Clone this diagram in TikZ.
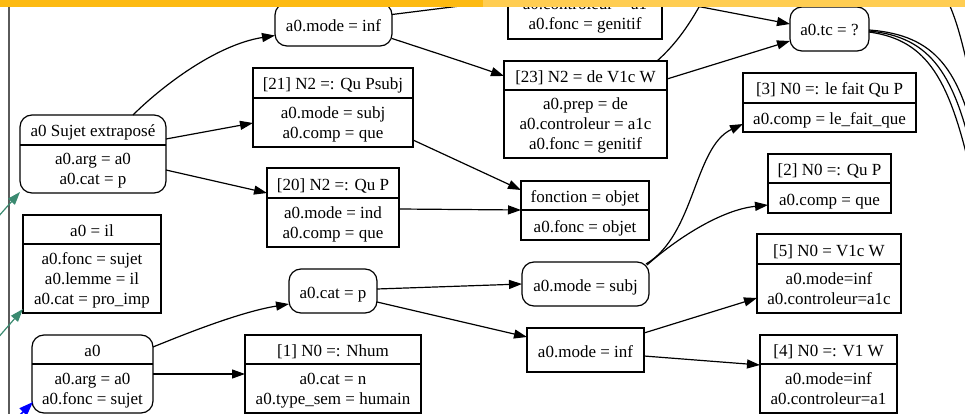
\documentclass[tikz,border=0pt]{standalone}
\usepackage{fontspec}
\setmainfont{Liberation Serif}
\usetikzlibrary{arrows.meta,calc}
\definecolor{barleft}{RGB}{253,186,18}
\definecolor{barright}{RGB}{255,205,82}
\definecolor{tealarrow}{RGB}{58,138,112}
\definecolor{framegray}{RGB}{90,90,90}

\begin{document}
\begin{tikzpicture}[x=1pt,y=-1pt,
  box/.style={draw, line width=1.2pt, inner sep=0pt, outer sep=0pt},
  rbox/.style={box, rounded corners=12pt},
  txt/.style={inner sep=0pt, outer sep=0pt, align=center, yshift=-3pt,
    font=\fontsize{17}{20}\selectfont,
    execute at begin node=\strut, execute at end node=\strut},
  rule/.style={line width=1.2pt},
  plain/.style={line width=1.2pt},
  edge/.style={line width=1.2pt, -{Triangle[length=13pt,width=9pt]}},
  tealedge/.style={tealarrow, line width=1.2pt, -{Triangle[length=13pt,width=9pt]}},
  blueedge/.style={blue, line width=1.6pt, -{Triangle[length=14pt,width=10pt]}}
]
\useasboundingbox (0,0) rectangle (965,414);
\clip (0,0) rectangle (965,414);

% frame rule on the left
\draw[framegray, line width=1.8pt] (9,7) -- (9,414);

% ---------- column 1 ----------
\node[rbox, minimum width=146pt, minimum height=78pt] (sujet) at (93,154) {};
\draw[rule] ($(sujet.north west)+(0,30)$) -- ($(sujet.north east)+(0,30)$);
\node[txt] (sujeth) at (93,130) {a0 Sujet extraposé};
\node[txt] (sujetb) at (93,169) {a0.arg = a0\\a0.cat = p};

\node[box, minimum width=138pt, minimum height=98pt] (a0il) at (92,264) {};
\draw[rule] ($(a0il.north west)+(0,29)$) -- ($(a0il.north east)+(0,29)$);
\node[txt] (a0ilh) at (92,229.5) {a0 = il};
\node[txt] (a0ilb) at (92,278.5) {a0.fonc = sujet\\a0.lemme = il\\a0.cat = pro\_imp};

\node[rbox, minimum width=121pt, minimum height=78pt] (a0) at (92.5,374) {};
\draw[rule] ($(a0.north west)+(0,29)$) -- ($(a0.north east)+(0,29)$);
\node[txt] (a0h) at (92.5,349.5) {a0};
\node[txt] (a0b) at (92.5,389) {a0.arg = a0\\a0.fonc = sujet};

% ---------- column 2 ----------
\node[rbox, minimum width=117pt, minimum height=43pt] (modeinfa) at (333.5,24.5) {};
\node[txt] (modeinfat) at (333.5,24.5) {a0.mode = inf};

\node[box, minimum width=160pt, minimum height=79pt] (q21) at (333,107.5) {};
\draw[rule] ($(q21.north west)+(0,30)$) -- ($(q21.north east)+(0,30)$);
\node[txt] (q21h) at (333,83) {[21] N2 =: Qu Psubj};
\node[txt] (q21b) at (333,122.5) {a0.mode = subj\\a0.comp = que};

\node[box, minimum width=132pt, minimum height=79pt] (q20) at (333,207.5) {};
\draw[rule] ($(q20.north west)+(0,30)$) -- ($(q20.north east)+(0,30)$);
\node[txt] (q20h) at (333,183) {[20] N2 =: Qu P};
\node[txt] (q20b) at (333,222.5) {a0.mode = ind\\a0.comp = que};

\node[rbox, minimum width=88pt, minimum height=44pt] (catp) at (333,291) {};
\node[txt] (catpt) at (333,291) {a0.cat = p};

\node[box, minimum width=176pt, minimum height=78pt] (q1) at (333,374) {};
\draw[rule] ($(q1.north west)+(0,29)$) -- ($(q1.north east)+(0,29)$);
\node[txt] (q1h) at (333,349.5) {[1] N0 =: Nhum};
\node[txt] (q1b) at (333,389) {a0.cat = n\\a0.type\_sem = humain};

% ---------- column 3 ----------
\node[box, minimum width=154pt, minimum height=79pt] (q22) at (585,-0.5) {};
\node[txt] (q22b) at (585,14) {a0.controleur = a1\\a0.fonc = genitif};

\node[box, minimum width=163pt, minimum height=97pt] (q23) at (585.5,109.5) {};
\draw[rule] ($(q23.north west)+(0,29)$) -- ($(q23.north east)+(0,29)$);
\node[txt] (q23h) at (585.5,75.5) {[23] N2 = de V1c W};
\node[txt] (q23b) at (585.5,124) {a0.prep = de\\a0.controleur = a1c\\a0.fonc = genitif};

\node[box, minimum width=128pt, minimum height=59pt] (fonc) at (585,210.5) {};
\draw[rule] ($(fonc.north west)+(0,29)$) -- ($(fonc.north east)+(0,29)$);
\node[txt] (fonch) at (585,195.5) {fonction = objet};
\node[txt] (foncb) at (585,225) {a0.fonc = objet};

\node[rbox, minimum width=127pt, minimum height=44pt] (subj) at (585.5,284) {};
\node[txt] (subjt) at (585.5,284) {a0.mode = subj};

\node[box, minimum width=117pt, minimum height=44pt] (modeinf) at (585.5,350) {};
\node[txt] (modeinft) at (585.5,350) {a0.mode = inf};

% ---------- column 4 ----------
\node[rbox, minimum width=79pt, minimum height=44pt] (tc) at (829.5,29) {};
\node[txt] (tct) at (829.5,29) {a0.tc = ?};

\node[box, minimum width=173pt, minimum height=59pt] (q3) at (829.5,102.5) {};
\draw[rule] ($(q3.north west)+(0,30)$) -- ($(q3.north east)+(0,30)$);
\node[txt] (q3h) at (829.5,88) {[3] N0 =: le fait Qu P};
\node[txt] (q3b) at (829.5,117.5) {a0.comp = le\_fait\_que};

\node[box, minimum width=123pt, minimum height=59pt] (q2) at (829.5,183.5) {};
\draw[rule] ($(q2.north west)+(0,29)$) -- ($(q2.north east)+(0,29)$);
\node[txt] (q2h) at (829.5,168.5) {[2] N0 =: Qu P};
\node[txt] (q2b) at (829.5,198) {a0.comp = que};

\node[box, minimum width=144pt, minimum height=79pt] (q5) at (829,273.5) {};
\draw[rule] ($(q5.north west)+(0,30)$) -- ($(q5.north east)+(0,30)$);
\node[txt] (q5h) at (829,249) {[5] N0 = V1c W};
\node[txt] (q5b) at (829,288.5) {a0.mode=inf\\a0.controleur=a1c};

\node[box, minimum width=137pt, minimum height=78pt] (q4) at (828.5,374) {};
\draw[rule] ($(q4.north west)+(0,29)$) -- ($(q4.north east)+(0,29)$);
\node[txt] (q4h) at (828.5,349.5) {[4] N0 =: V1 W};
\node[txt] (q4b) at (828.5,389) {a0.mode=inf\\a0.controleur=a1};

% free ends of edges that leave the view
\coordinate (modeinfaout) at (508,0);
\coordinate (q23out) at (706,-6);
\coordinate (tcoutA) at (975,165);
\coordinate (tcoutB) at (972,178);
\coordinate (tcoutC) at (978,152);
\coordinate (rightin) at (945,-5);
\coordinate (rightout) at (974,95);
\coordinate (sujetin) at (-10,226);
\coordinate (a0ilin) at (-10,347);
\coordinate (a0in) at (13,422);

% ---------- connectors ----------
\draw[edge] ($(sujet.north west)+(113,0)$) .. controls (160,88) and (215,45) .. ($(modeinfa.west)+(0,11)$);
\draw[edge] ($(sujet.east)+(0,-15)$) -- ($(q21.west)+(0,15.5)$);
\draw[edge] ($(sujet.east)+(0,16)$) -- ($(q20.west)+(0,-14.5)$);

\draw[edge] ($(modeinfa.east)+(0,14)$) .. controls (430,51) and (470,64) .. ($(q23.north west)+(0,15)$);
\draw[plain] ($(modeinfa.east)+(0,-10)$) -- (modeinfaout);

\draw[edge] ($(q21.south east)+(0,-7)$) -- ($(fonc.north west)+(0,9)$);
\draw[edge] ($(q20.east)+(0,1.5)$) -- ($(fonc.west)+(0,-0.5)$);

\draw[plain] ($(q23.north east)+(-10,0)$) .. controls (675,45) and (690,25) .. (q23out);
\draw[edge] (q22.east) -- ($(tc.west)+(0,-5)$);
\draw[edge] ($(q23.east)+(0,-30.5)$) -- ($(tc.west)+(0,12)$);

\draw[plain] ($(tc.east)+(0,2)$) .. controls (932,37) and (955,75) .. (tcoutA);
\draw[plain] ($(tc.east)+(0,3)$) .. controls (928,40) and (950,80) .. (tcoutB);
\draw[plain] ($(tc.east)+(0,1)$) .. controls (936,35) and (960,70) .. (tcoutC);
\draw[plain] (rightin) .. controls (957,20) and (962,40) .. (rightout);

\draw[edge] ($(a0.north east)+(0,12)$) .. controls (185,334) and (240,312) .. ($(catp.west)+(0,13)$);
\draw[edge] (a0.east) -- (q1.west);
\draw[edge] ($(catp.east)+(0,-2)$) -- (subj.west);
\draw[edge] ($(catp.east)+(0,11)$) -- ($(modeinf.west)+(0,-13)$);

\draw[edge] ($(subj.north east)+(-2,3)$) .. controls (675,240) and (720,210) .. ($(q2.south west)+(0,-8)$);
\draw[edge] ($(subj.north east)+(-3,2)$) .. controls (695,235) and (694,147) .. ($(q3.south west)+(0,-8)$);

\draw[edge] ($(modeinf.north east)+(0,5)$) -- ($(q5.south west)+(0,-15)$);
\draw[edge] ($(modeinf.east)+(0,6)$) -- ($(q4.west)+(0,-9)$);

\draw[tealedge] (sujetin) -- ($(sujet.south west)+(0,-1)$);
\draw[tealedge] (a0ilin) -- ($(a0il.south west)+(0,-4)$);
\draw[blueedge] (a0in) -- ($(a0.south west)+(1,-11)$);

% title bar along the top
\fill[barleft] (0,0) rectangle (483,7.5);
\fill[barright] (483,0) rectangle (965,7.5);
\end{tikzpicture}
\end{document}
